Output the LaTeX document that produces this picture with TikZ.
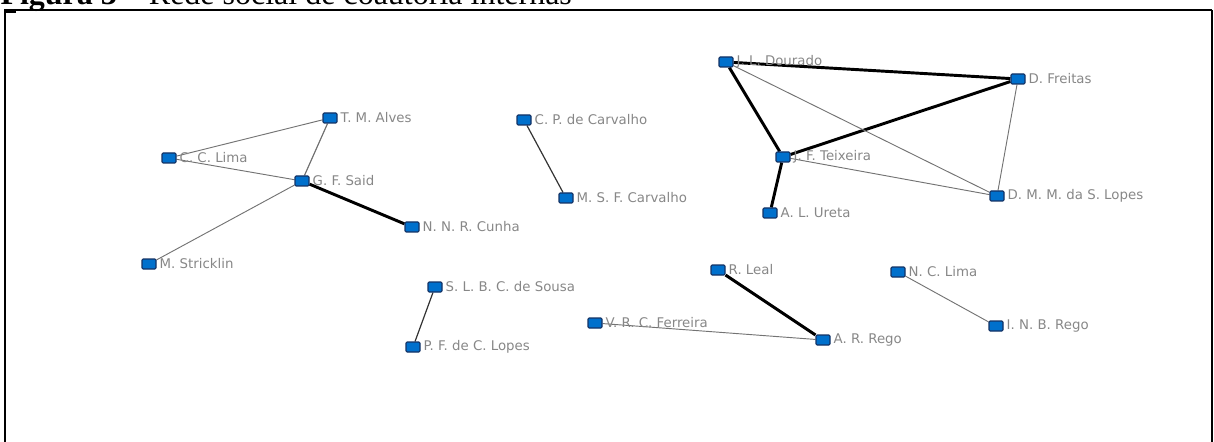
\documentclass[tikz,border=0pt]{standalone}
\usepackage{fontspec}
\setmainfont{Liberation Serif}
\newfontfamily\lblfont{DejaVu Sans}
\usetikzlibrary{backgrounds}

\definecolor{authorfill}{RGB}{0,112,204}
\definecolor{authorline}{RGB}{20,50,100}
\definecolor{lblgray}{RGB}{135,135,135}
\definecolor{weakgray}{RGB}{115,115,115}

\tikzset{every picture/.style={line width=0.75pt}}
\tikzset{
  author/.style={rectangle, draw=authorline, fill=authorfill, rounded corners=0.8pt,
    minimum width=10.5pt, minimum height=7.5pt, inner sep=0pt, line width=0.8pt},
  lbl/.style={font=\lblfont\fontsize{10}{12}\selectfont, text=lblgray, inner sep=2pt},
  weak/.style={draw=weakgray, line width=0.7pt},
  medium/.style={draw=black!80, line width=0.9pt},
  strong/.style={draw=black, line width=2.2pt}
}

\begin{document}
\begin{tikzpicture}[x=0.75pt,y=0.75pt,yscale=-1,xscale=1]
\useasboundingbox (0,0) rectangle (1214,442);

% Title (cut at the top)
\node [anchor=base west, inner sep=0pt, font=\fontsize{24}{28}\selectfont] (title) at (0,5) {\textbf{Figura 3} – Rede social de coautoria internas};

% Frame
\draw [line width=1.2pt] (4,10) -- (1212,10);
\draw [line width=2pt] (5,10) -- (5,442);
\draw [line width=1.1pt] (1212,10) -- (1212,442);
\draw [line width=2pt] (5,12) -- (16,12);

% Authors
\node [author, label={[lbl]east:T. M. Alves}] (tma) at (330,118) {};
\node [author, label={[lbl]east:C. C. Lima}] (ccl) at (169,158) {};
\node [author, label={[lbl]east:G. F. Said}] (gfs) at (302,181) {};
\node [author, label={[lbl]east:N. N. R. Cunha}] (nnrc) at (412,227) {};
\node [author, label={[lbl]east:M. Stricklin}] (mst) at (149,264) {};
\node [author, label={[lbl]east:C. P. de Carvalho}] (cpc) at (524,120) {};
\node [author, label={[lbl]east:M. S. F. Carvalho}] (msfc) at (566,198) {};
\node [author, label={[lbl]east:J. L. Dourado}] (jld) at (726,62) {};
\node [author, label={[lbl]east:D. Freitas}] (dfr) at (1018,79) {};
\node [author, label={[lbl]east:J. F. Teixeira}] (jft) at (783,157) {};
\node [author, label={[lbl]east:A. L. Ureta}] (alu) at (770,213) {};
\node [author, label={[lbl]east:D. M. M. da S. Lopes}] (dmml) at (997,196) {};
\node [author, label={[lbl]east:S. L. B. C. de Sousa}] (slbs) at (435,287) {};
\node [author, label={[lbl]east:P. F. de C. Lopes}] (pfl) at (413,347) {};
\node [author, label={[lbl]east:R. Leal}] (rle) at (718,270) {};
\node [author, label={[lbl]east:V. R. C. Ferreira}] (vrcf) at (595,323) {};
\node [author, label={[lbl]east:A. R. Rego}] (arr) at (823,340) {};
\node [author, label={[lbl]east:N. C. Lima}] (ncl) at (898,272) {};
\node [author, label={[lbl]east:I. N. B. Rego}] (inbr) at (996,326) {};

% Ties
\begin{scope}[on background layer]
\draw [weak] (ccl) -- (tma);
\draw [weak] (ccl) -- (gfs);
\draw [weak, line width=0.9pt] (tma) -- (gfs);
\draw [weak] (mst) -- (gfs);
\draw [strong] (gfs) -- (nnrc);
\draw [medium] (cpc) -- (msfc);
\draw [strong] (jld) -- (dfr);
\draw [strong] (jld) -- (jft);
\draw [strong] (jft) -- (dfr);
\draw [strong] (jft) -- (alu);
\draw [weak] (jld) -- (dmml);
\draw [weak] (jft) -- (dmml);
\draw [weak] (dfr) -- (dmml);
\draw [medium] (slbs) -- (pfl);
\draw [strong] (rle) -- (arr);
\draw [weak] (vrcf) -- (arr);
\draw [weak] (ncl) -- (inbr);
\end{scope}
\end{tikzpicture}
\end{document}
